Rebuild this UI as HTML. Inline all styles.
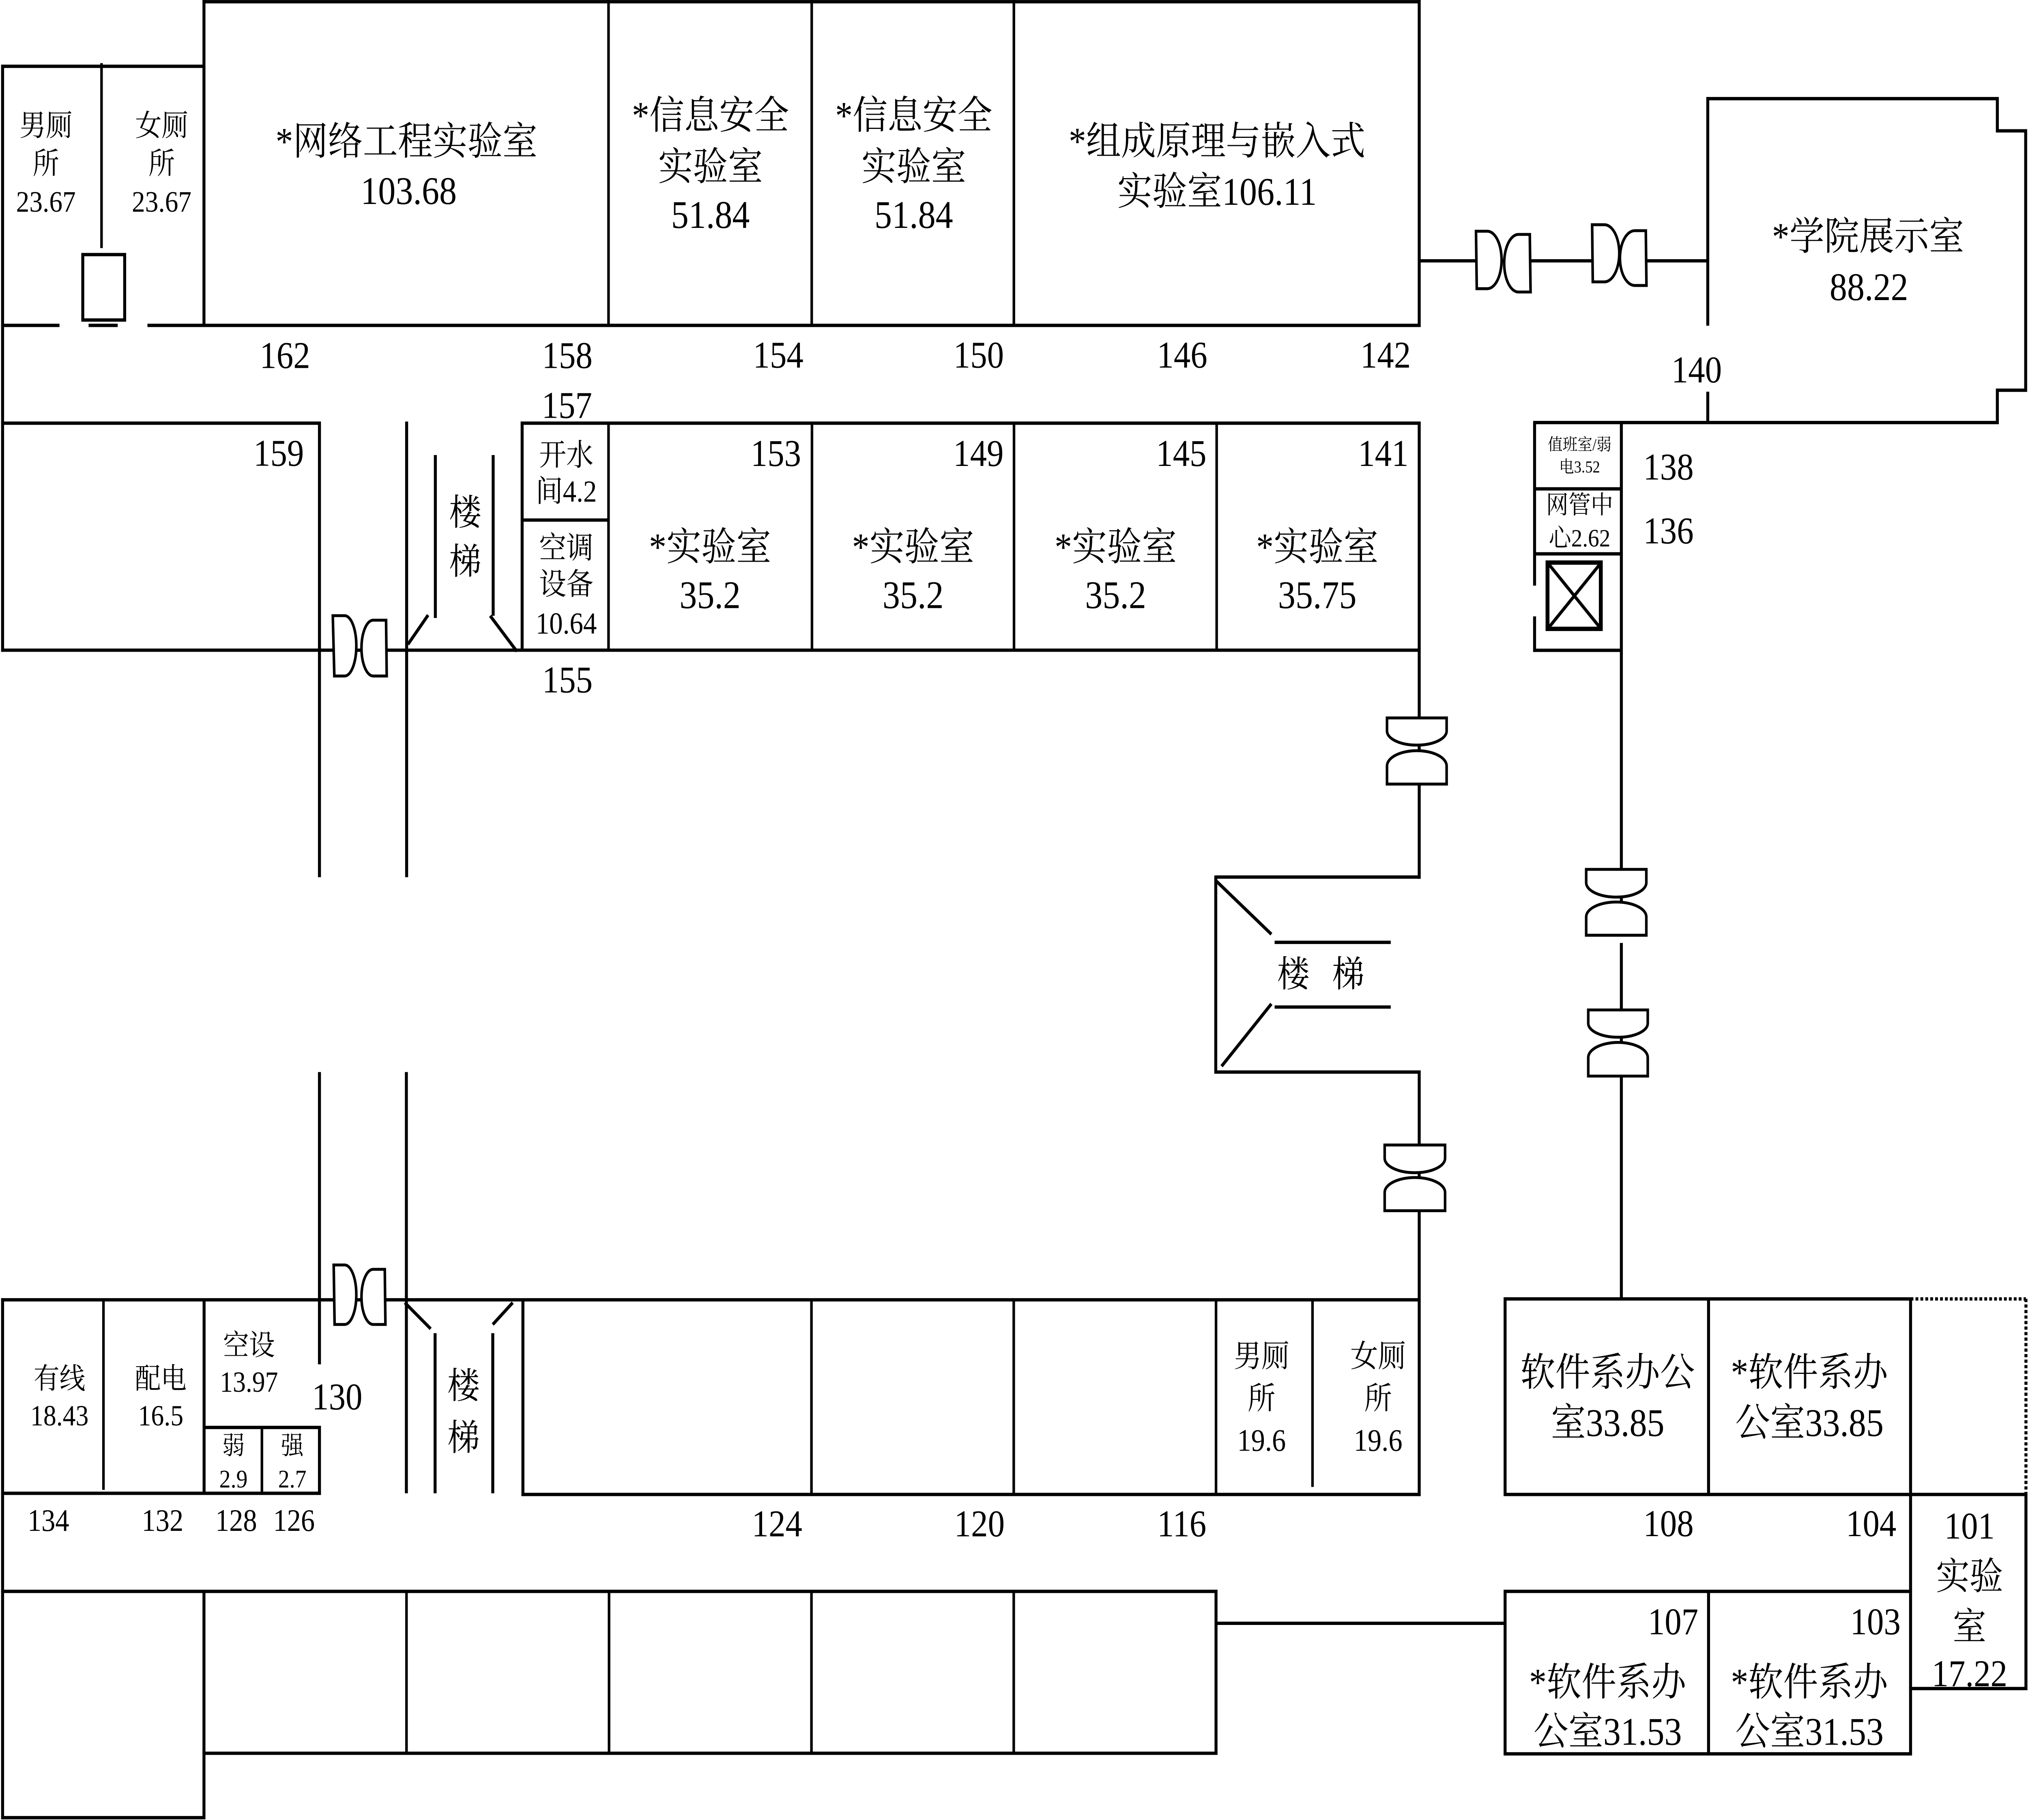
<!DOCTYPE html>
<html>
<head>
<meta charset="utf-8">
<style>
html,body{margin:0;padding:0;background:#fff;width:100%;height:100%;overflow:hidden;}
svg{display:block;width:100vw;height:100vh;}
text{font-family:"Liberation Serif","Noto Serif CJK SC",serif;text-anchor:middle;dominant-baseline:central;fill:#000;}
.r{text-anchor:end;}
</style>
</head>
<body>
<svg xmlns="http://www.w3.org/2000/svg" width="100%" height="100%" viewBox="0 0 1568 1254.6" preserveAspectRatio="none">
<rect x="0" y="0" width="1568" height="1254.6" fill="#fff"/>
<g stroke="#000" stroke-width="2.3" fill="none" stroke-linecap="butt">
  <!-- Top block -->
  <line x1="156.6" y1="1.2" x2="1098.4" y2="1.2"/>
  <line x1="157.7" y1="0" x2="157.7" y2="224.3"/>
  <line x1="470.5" y1="0" x2="470.5" y2="224.3" stroke-width="2"/>
  <line x1="627.6" y1="0" x2="627.6" y2="224.3" stroke-width="2"/>
  <line x1="783.9" y1="0" x2="783.9" y2="224.3" stroke-width="2"/>
  <line x1="1097.3" y1="0" x2="1097.3" y2="225.4"/>
  <!-- toilets -->
  <line x1="0.9" y1="45.7" x2="157.7" y2="45.7"/>
  <line x1="2" y1="44.6" x2="2" y2="449.3"/>
  <line x1="78.5" y1="43.5" x2="78.5" y2="171" stroke-width="2"/>
  <rect x="64" y="175.5" width="32.4" height="45.1"/>
  <line x1="0.9" y1="224.3" x2="46" y2="224.3"/>
  <line x1="68.5" y1="224.3" x2="91" y2="224.3"/>
  <line x1="114" y1="224.3" x2="1098.4" y2="224.3"/>

  <!-- Row 2 -->
  <line x1="0.9" y1="291.7" x2="248.1" y2="291.7"/>
  <line x1="247" y1="290.6" x2="247" y2="604.7"/>
  <line x1="314.4" y1="290.6" x2="314.4" y2="604.7"/>
  <line x1="403.7" y1="290.6" x2="403.7" y2="448.2"/>
  <line x1="402.6" y1="291.7" x2="1098.4" y2="291.7"/>
  <line x1="403.7" y1="358.5" x2="470.5" y2="358.5"/>
  <line x1="470.5" y1="291.7" x2="470.5" y2="448.2" stroke-width="2"/>
  <line x1="627.8" y1="291.7" x2="627.8" y2="448.2" stroke-width="2"/>
  <line x1="784" y1="291.7" x2="784" y2="448.2" stroke-width="2"/>
  <line x1="940.7" y1="291.7" x2="940.7" y2="448.2" stroke-width="2"/>
  <line x1="1097.3" y1="290.6" x2="1097.3" y2="605.8"/>
  <line x1="0.9" y1="448.2" x2="1098.4" y2="448.2"/>
  <!-- left top stair -->
  <line x1="315.4" y1="444.2" x2="331" y2="424"/>
  <line x1="336.6" y1="313.7" x2="336.6" y2="426"/>
  <line x1="381.3" y1="313.7" x2="381.3" y2="424.5"/>
  <line x1="379" y1="424.5" x2="399.6" y2="449"/>

  <!-- Middle stair -->
  <line x1="940" y1="604.6" x2="1098.4" y2="604.6"/>
  <line x1="940" y1="603.5" x2="940" y2="740.1"/>
  <line x1="938.9" y1="739" x2="1098.4" y2="739"/>
  <line x1="1097.3" y1="737.9" x2="1097.3" y2="1031.3"/>
  <line x1="985.5" y1="649.6" x2="1075.3" y2="649.6"/>
  <line x1="985.5" y1="694.2" x2="1075.3" y2="694.2"/>
  <line x1="940" y1="607" x2="983" y2="644"/>
  <line x1="944.5" y1="735" x2="983" y2="692"/>

  <!-- Left corridor lower -->
  <line x1="247" y1="739" x2="247" y2="940.5"/>
  <line x1="314.2" y1="739" x2="314.2" y2="1029.4"/>

  <!-- Bottom rooms row -->
  <line x1="0.9" y1="896" x2="1098.4" y2="896"/>
  <line x1="2" y1="894.9" x2="2" y2="1254"/>
  <line x1="80" y1="896" x2="80" y2="1027" stroke-width="2"/>
  <line x1="157.8" y1="896" x2="157.8" y2="1029.4"/>
  <line x1="0.9" y1="1029.4" x2="248.1" y2="1029.4"/>
  <line x1="157.8" y1="984" x2="248.1" y2="984"/>
  <line x1="247" y1="982.9" x2="247" y2="1030.5"/>
  <line x1="202.5" y1="984" x2="202.5" y2="1029.4" stroke-width="2"/>
  <!-- bottom-left stair -->
  <line x1="313" y1="898" x2="333" y2="916"/>
  <line x1="336.4" y1="919" x2="336.4" y2="1029.4"/>
  <line x1="381" y1="919" x2="381" y2="1029.4"/>
  <line x1="381" y1="913" x2="396.4" y2="898"/>
  <line x1="404.3" y1="896" x2="404.3" y2="1031.3"/>
  <line x1="403.2" y1="1030.2" x2="1098.4" y2="1030.2"/>
  <line x1="627.4" y1="896" x2="627.4" y2="1030.2" stroke-width="2"/>
  <line x1="783.8" y1="896" x2="783.8" y2="1030.2" stroke-width="2"/>
  <line x1="940.2" y1="896" x2="940.2" y2="1030.2" stroke-width="2"/>
  <line x1="1014.8" y1="896" x2="1014.8" y2="1025" stroke-width="2"/>

  <!-- Bottom-most row -->
  <line x1="0.9" y1="1097" x2="941.3" y2="1097"/>
  <line x1="156.6" y1="1208.6" x2="941.3" y2="1208.6"/>
  <line x1="157.7" y1="1097" x2="157.7" y2="1254"/>
  <line x1="0.9" y1="1253" x2="158.8" y2="1253"/>
  <line x1="314.3" y1="1097" x2="314.3" y2="1208.6" stroke-width="2"/>
  <line x1="470.9" y1="1097" x2="470.9" y2="1208.6" stroke-width="2"/>
  <line x1="627.4" y1="1097" x2="627.4" y2="1208.6" stroke-width="2"/>
  <line x1="783.8" y1="1097" x2="783.8" y2="1208.6" stroke-width="2"/>
  <line x1="940.2" y1="1095.9" x2="940.2" y2="1209.7"/>
  <line x1="940.2" y1="1119" x2="1163.7" y2="1119"/>

  <!-- Bottom right -->
  <rect x="1163.7" y="895.4" width="313.5" height="134.8"/>
  <line x1="1321" y1="895.4" x2="1321" y2="1030.2"/>
  <rect x="1163.7" y="1097" width="313.5" height="112"/>
  <line x1="1321" y1="1097" x2="1321" y2="1209"/>
  <line x1="1477.2" y1="1030.2" x2="1477.2" y2="1097"/>
  <line x1="1476.1" y1="1030.2" x2="1567.5" y2="1030.2"/>
  <line x1="1566.4" y1="1029.1" x2="1566.4" y2="1165.1"/>
  <line x1="1476.1" y1="1164" x2="1567.5" y2="1164"/>
  <line x1="1477.2" y1="895.4" x2="1566.4" y2="895.4" stroke-dasharray="2.2 1.6"/>
  <line x1="1566.4" y1="895.4" x2="1566.4" y2="1030.2" stroke-dasharray="2.2 1.6"/>

  <!-- Right vertical spine -->
  <line x1="1253.6" y1="291.3" x2="1253.6" y2="645"/>
  <line x1="1253.6" y1="650" x2="1253.6" y2="895.4"/>

  <!-- Top right -->
  <line x1="1097.3" y1="179.8" x2="1320.4" y2="179.8"/>
  <path d="M1320.4,224.5 V68 H1544.3 V90.2 H1566.2 V269 H1544.3 V291.3 H1185.4"/>
  <line x1="1320.4" y1="270" x2="1320.4" y2="291.3"/>
  <line x1="1186.5" y1="291.3" x2="1186.5" y2="403.7"/>
  <line x1="1186.5" y1="424.9" x2="1186.5" y2="449.4"/>
  <line x1="1186.5" y1="337" x2="1253.6" y2="337"/>
  <line x1="1186.5" y1="381.8" x2="1253.6" y2="381.8"/>
  <line x1="1185.4" y1="448.3" x2="1254.7" y2="448.3"/>
  <rect x="1196.5" y="387.8" width="41.2" height="45.7" stroke-width="3"/>
  <line x1="1198" y1="389.5" x2="1236.5" y2="432"/>
  <line x1="1236.5" y1="389.5" x2="1198" y2="432"/>
</g>

<!-- Doors -->
<g stroke="#000" stroke-width="2" fill="#fff">
  <path d="M257.3,424.4 H266.5 A9 20.8 0 0 1 266.5,466 H258.5 Z"/>
  <path d="M298.5,427.5 H288.5 A9 19.25 0 0 0 288.5,466 H299 Z"/>
  <path d="M258,872 H266.5 A9 20.5 0 0 1 266.5,913 H258.7 Z"/>
  <path d="M297.5,875 H288.5 A9 19 0 0 0 288.5,913 H298 Z"/>
  <path d="M1141.2,159.4 H1150 A11 19.8 0 0 1 1150,199 H1141.8 Z"/>
  <path d="M1182.8,161.6 H1174 A11 19.85 0 0 0 1174,201.3 H1183.4 Z"/>
  <path d="M1231,154.9 H1240.5 A11.5 19.7 0 0 1 1240.5,194.3 H1231.5 Z"/>
  <path d="M1272.5,159 H1264 A11.5 18.9 0 0 0 1264,196.8 H1273 Z"/>
  <path d="M1072.4,494.9 H1118.5 V504 A23 9.6 0 0 1 1072.4,504 Z"/>
  <path d="M1072.4,528 A23 10.5 0 0 1 1118.5,528 V540.5 H1072.4 Z"/>
  <path d="M1070.6,789.3 H1117.3 V798.5 A23.35 9.9 0 0 1 1070.6,798.5 Z"/>
  <path d="M1070.6,822 A23.35 10.3 0 0 1 1117.3,822 V834.6 H1070.6 Z"/>
  <path d="M1226.4,599.3 H1272.9 V608.5 A23.25 9.9 0 0 1 1226.4,608.5 Z"/>
  <path d="M1226.4,632 A23.25 10.2 0 0 1 1272.9,632 V644.7 H1226.4 Z"/>
  <path d="M1228,696.2 H1274 V705.5 A23 9.5 0 0 1 1228,705.5 Z"/>
  <path d="M1228,729 A23 10.4 0 0 1 1274,729 V741.8 H1228 Z"/>
</g>

<!-- Text: top -->
<g font-size="20.5">
  <text x="35.5" y="86.8">男厕</text>
  <text x="35.5" y="113">所</text>
  <text x="35.5" y="139.3">23.67</text>
  <text x="125" y="86.8">女厕</text>
  <text x="125" y="113">所</text>
  <text x="125" y="139.3">23.67</text>
</g>
<g font-size="27">
  <text x="314.3" y="97.5">*网络工程实验室</text>
  <text x="316" y="131.4">103.68</text>
  <text x="549.3" y="79.6">*信息安全</text>
  <text x="549.3" y="115">实验室</text>
  <text x="549.3" y="148">51.84</text>
  <text x="706.5" y="79.6">*信息安全</text>
  <text x="706.5" y="115">实验室</text>
  <text x="706.5" y="148">51.84</text>
  <text x="941" y="97.4">*组成原理与嵌入式</text>
  <text x="941" y="132">实验室106.11</text>
  <text x="1444.3" y="163">*学院展示室</text>
  <text x="1445" y="197.7">88.22</text>
</g>
<g font-size="26">
  <text x="220.3" y="245.2">162</text>
  <text x="438.6" y="245.2">158</text>
  <text x="601.7" y="244.8">154</text>
  <text x="756.7" y="244.8">150</text>
  <text x="914" y="244.8">146</text>
  <text x="1071.3" y="244.8">142</text>
  <text x="438.3" y="279.5">157</text>
  <text x="438.7" y="468.8">155</text>
  <text class="r" x="235" y="312.5">159</text>
  <text class="r" x="619.4" y="312.6">153</text>
  <text class="r" x="776" y="312.6">149</text>
  <text class="r" x="932.8" y="312.6">145</text>
  <text class="r" x="1089" y="312.6">141</text>
  <text x="1311.8" y="255">140</text>
  <text x="1290" y="322">138</text>
  <text x="1290" y="366.1">136</text>
</g>
<g font-size="21">
  <text x="437.8" y="314">开水</text>
  <text x="437.8" y="339">间4.2</text>
  <text x="437.8" y="378">空调</text>
  <text x="437.8" y="403">设备</text>
  <text x="437.8" y="430">10.64</text>
</g>
<g font-size="27">
  <text x="549" y="377">*实验室</text>
  <text x="549" y="410">35.2</text>
  <text x="706" y="377">*实验室</text>
  <text x="706" y="410">35.2</text>
  <text x="862.6" y="377">*实验室</text>
  <text x="862.6" y="410">35.2</text>
  <text x="1018.5" y="377">*实验室</text>
  <text x="1018.5" y="410">35.75</text>
</g>
<g font-size="25">
  <text x="359.7" y="353.8">楼</text>
  <text x="359.7" y="387.6">梯</text>
  <text x="1000" y="672">楼</text>
  <text x="1042.4" y="672">梯</text>
  <text x="358.4" y="955.8">楼</text>
  <text x="358.4" y="991.5">梯</text>
</g>
<g font-size="11.5">
  <text x="1221.3" y="306.6">值班室/弱</text>
  <text x="1221.3" y="322">电3.52</text>
</g>
<g font-size="17.3">
  <text x="1221.3" y="348.2">网管中</text>
  <text x="1221.3" y="371">心2.62</text>
</g>

<!-- Text: bottom -->
<g font-size="20">
  <text x="46" y="950.5">有线</text>
  <text x="46" y="976">18.43</text>
  <text x="124.3" y="950.5">配电</text>
  <text x="124.3" y="976">16.5</text>
  <text x="192.5" y="927.4">空设</text>
  <text x="192.5" y="952.7">13.97</text>
</g>
<g font-size="17.5">
  <text x="180.5" y="996.5">弱</text>
  <text x="180.5" y="1019.5">2.9</text>
  <text x="226" y="996.5">强</text>
  <text x="226" y="1019.5">2.7</text>
</g>
<g font-size="21.5">
  <text x="37.4" y="1048">134</text>
  <text x="125.7" y="1048">132</text>
  <text x="182.6" y="1048">128</text>
  <text x="227.3" y="1048">126</text>
  <text x="975.4" y="935">男厕</text>
  <text x="975.4" y="964">所</text>
  <text x="975.4" y="992.8">19.6</text>
  <text x="1065.5" y="935">女厕</text>
  <text x="1065.5" y="964">所</text>
  <text x="1065.5" y="992.8">19.6</text>
</g>
<g font-size="26">
  <text x="260.7" y="963">130</text>
  <text x="600.8" y="1050.5">124</text>
  <text x="757.3" y="1050.5">120</text>
  <text x="913.7" y="1050.5">116</text>
  <text x="1290" y="1050.4">108</text>
  <text x="1446.7" y="1050.4">104</text>
  <text x="1293.6" y="1118">107</text>
  <text x="1450" y="1118">103</text>
  <text x="1522.8" y="1052">101</text>
  <text x="1522.8" y="1087">实验</text>
  <text x="1522.8" y="1121.6">室</text>
  <text x="1522.8" y="1153.8">17.22</text>
</g>
<g font-size="27">
  <text x="1243" y="946">软件系办公</text>
  <text x="1243" y="980.7">室33.85</text>
  <text x="1399" y="946">*软件系办</text>
  <text x="1399" y="980.7">公室33.85</text>
  <text x="1243" y="1159.7">*软件系办</text>
  <text x="1243" y="1193.6">公室31.53</text>
  <text x="1399" y="1159.7">*软件系办</text>
  <text x="1399" y="1193.6">公室31.53</text>
</g>
</svg>
</body>
</html>
